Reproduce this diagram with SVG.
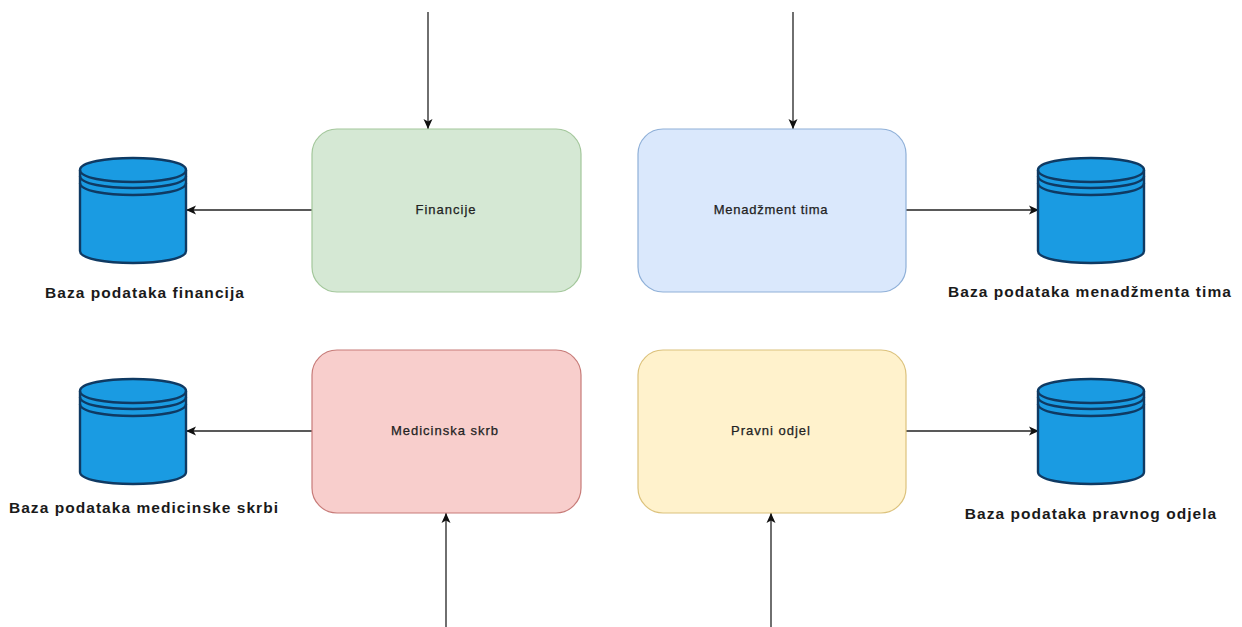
<svg xmlns="http://www.w3.org/2000/svg" width="1242" height="627" viewBox="0 0 1242 627">
<style>
text{font-family:"Liberation Sans",Arial,sans-serif;text-anchor:middle;fill:#1a1a1a}
.t{font-size:13px;fill:#222;stroke:#222;stroke-width:.25}
.l{font-size:15.5px;font-weight:bold;letter-spacing:1.05px}
.b{stroke-width:1.2}
.c{fill:#1a9be2;stroke:#0f3a63;stroke-width:2.4}
.n{fill:none;stroke:#0f3a63;stroke-width:2.4}
.e{fill:none;stroke:#222;stroke-width:1.3}
</style>
<defs>
<marker id="a" markerUnits="userSpaceOnUse" markerWidth="11" markerHeight="10" refX="10" refY="5" orient="auto"><path d="M0 0.5L10 5L0 9.5L2.5 5Z" fill="#111"/></marker>
<g id="db">
<path class="c" d="M0 12C0 -4 106 -4 106 12V93C106 109 0 109 0 93Z"/>
<path class="n" d="M0 12C0 28 106 28 106 12M0 18C0 34 106 34 106 18M0 25C0 41 106 41 106 25"/>
</g>
</defs>
<rect width="1242" height="627" fill="#fff"/>
<g id="connectors">
<path class="e" marker-end="url(#a)" d="M428 12V129"/>
<path class="e" marker-end="url(#a)" d="M793 12V129"/>
<path class="e" marker-end="url(#a)" d="M312 210H186"/>
<path class="e" marker-end="url(#a)" d="M906 210H1039"/>
<path class="e" marker-end="url(#a)" d="M312 431H186"/>
<path class="e" marker-end="url(#a)" d="M906 431H1039"/>
<path class="e" marker-end="url(#a)" d="M446 627V513"/>
<path class="e" marker-end="url(#a)" d="M771 627V513"/>
</g>
<g id="financije"><rect class="b" x="312" y="129" width="269" height="163" rx="25" fill="#d5e8d4" stroke="#a3c79b"/><text class="t" x="446" y="214" letter-spacing="1">Financije</text></g>
<g id="menadzment"><rect class="b" x="638" y="129" width="268" height="163" rx="25" fill="#dae8fc" stroke="#8fb0d8"/><text class="t" x="771" y="214" letter-spacing=".75">Menadžment tima</text></g>
<g id="medicinska"><rect class="b" x="312" y="350" width="269" height="163" rx="25" fill="#f8cecc" stroke="#c77b78"/><text class="t" x="445" y="435" letter-spacing="1">Medicinska skrb</text></g>
<g id="pravni"><rect class="b" x="638" y="350" width="268" height="163" rx="25" fill="#fff2cc" stroke="#dcc27c"/><text class="t" x="771" y="435" letter-spacing="1">Pravni odjel</text></g>
<g id="db-financije"><use href="#db" x="80" y="158"/><text class="l" x="145" y="298">Baza podataka financija</text></g>
<g id="db-menadzment"><use href="#db" x="1038" y="158"/><text class="l" x="1090" y="297">Baza podataka menadžmenta tima</text></g>
<g id="db-medicinska"><use href="#db" x="80" y="379"/><text class="l" x="144" y="513">Baza podataka medicinske skrbi</text></g>
<g id="db-pravni"><use href="#db" x="1038" y="379"/><text class="l" x="1091" y="519">Baza podataka pravnog odjela</text></g>
</svg>
